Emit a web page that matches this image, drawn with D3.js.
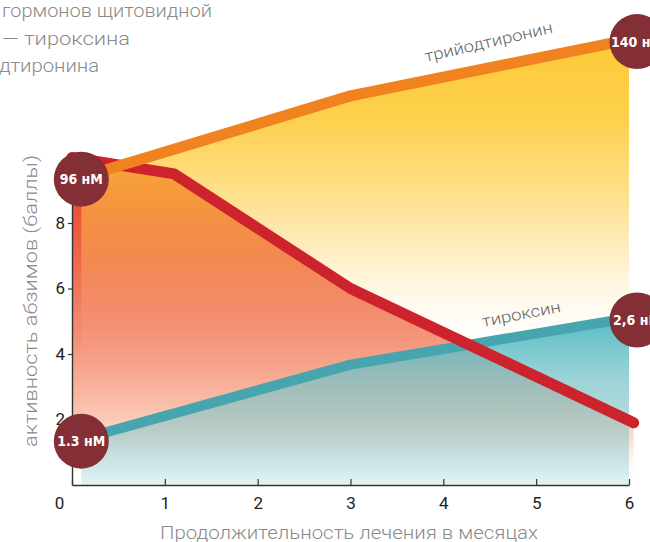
<!DOCTYPE html>
<html>
<head>
<meta charset="utf-8">
<script src="https://cdn.jsdelivr.net/npm/d3@7"></script>
<style>
  html, body { margin: 0; padding: 0; background: #fff; }
  svg { display: block; }
</style>
</head>
<body>
<svg id="chart" width="650" height="542"></svg>
<script>
// Treatment duration, months
const months = [0, 1, 2, 3, 4, 5, 6];
const activityTicks = [2, 4, 6, 8];

// Abzyme activity, score
const activityMonths = [0, 1.1, 3, 6.05];
const activityValues = [10, 9.5, 6, 1.9];

// Triiodothyronine, nM
const t3Months = [0.1, 3, 6];
const t3Values = [96, 122, 140];
const t3Labels = ["96 нМ", "140 нМ"];

// Thyroxine, nM
const t4Months = [0.1, 3, 6];
const t4Values = [1.3, 2.1, 2.6];
const t4Labels = ["1.3 нМ", "2,6 нМ"];

const titleLines = ["гормонов щитовидной", "— тироксина", "дтиронина"];
const xTitle = "Продолжительность лечения в месяцах";
const yTitle = "активность абзимов (баллы)";
const t3Name = "трийодтиронин";
const t4Name = "тироксин";

const svg = d3.select("#chart");
const lightFont = "Roboto, 'Liberation Sans', sans-serif";
const badgeFont = "'Liberation Sans Narrow', 'DejaVu Sans Condensed', 'Liberation Sans', sans-serif";

const x = d3.scaleLinear().domain([0, 6]).range([72, 629]);
const y = d3.scaleLinear().domain([0, 10]).range([485, 157.5]);
// hormone concentrations share the plot area on their own scales
const yT3 = d3.scaleLinear().domain([96, 140]).range([y(9.4), y(13.6)]);
const yT4 = d3.scaleLinear().domain([1.3, 2.6]).range([y(1.4), y(5.1)]);

const activity = activityMonths.map((m, i) => ({ m, v: activityValues[i] }));
const t3 = t3Months.map((m, i) => ({ m, v: t3Values[i] }));
const t4 = t4Months.map((m, i) => ({ m, v: t4Values[i] }));

// vertical gradients in page coordinates
const defs = svg.append("defs");
function vGradient(id, stops) {
  const y1 = stops[0][0], y2 = stops[stops.length - 1][0];
  const g = defs.append("linearGradient").attr("id", id)
    .attr("gradientUnits", "userSpaceOnUse")
    .attr("x1", 0).attr("x2", 0).attr("y1", y1).attr("y2", y2);
  stops.forEach(([py, c, o]) => {
    g.append("stop").attr("offset", (py - y1) / (y2 - y1))
      .attr("stop-color", c).attr("stop-opacity", o);
  });
}
vGradient("gRed", [[150, "#e83a2a", 1], [250, "#ee6248", 1], [330, "#f38a70", 1],
                   [400, "#f9bba5", 1], [440, "#fcdccf", 1], [482, "#ffffff", 0]]);
vGradient("gYellow", [[35, "#fdc935", 1], [120, "#fdcb3a", 0.9], [200, "#fdcc40", 0.58],
                      [260, "#fdd055", 0.32], [310, "#fde090", 0.12], [370, "#ffffff", 0]]);
vGradient("gTeal", [[315, "#4ab8c4", 0.95], [380, "#76c3c8", 0.72], [430, "#8ec6c6", 0.6],
                    [485, "#e2f3f3", 0.95]]);

// filled areas
svg.append("path").datum(activity)
  .attr("fill", "url(#gRed)")
  .attr("d", d3.area().x(d => x(d.m)).y0(y(0)).y1(d => y(d.v)));
svg.append("path").datum(t3)
  .attr("fill", "url(#gYellow)")
  .attr("d", d3.area().x(d => x(d.m)).y0(y(0)).y1(d => yT3(d.v)));
svg.append("path").datum(t4)
  .attr("fill", "url(#gTeal)")
  .attr("d", d3.area().x(d => x(d.m)).y0(y(0)).y1(d => yT4(d.v)));

// axes
const xAxis = svg.append("g").attr("transform", `translate(0,${y(0)})`)
  .call(d3.axisBottom(x).tickValues(months).tickFormat(d3.format("d"))
    .tickSizeInner(-6).tickSizeOuter(0).tickPadding(12));
const yAxis = svg.append("g").attr("transform", `translate(${x(0)},0)`)
  .call(d3.axisLeft(y).tickValues(activityTicks).tickFormat(d3.format("d"))
    .tickSizeInner(4).tickSizeOuter(0).tickPadding(3));
[xAxis, yAxis].forEach(a => {
  a.select(".domain").attr("stroke", "#333").attr("stroke-width", 1.4);
  a.selectAll(".tick line").attr("stroke", "#333").attr("stroke-width", 1.2);
  a.selectAll(".tick text").attr("fill", "#222")
    .style("font-family", lightFont).style("font-size", "17px");
});
xAxis.selectAll(".tick text").filter(d => d === 0).attr("dx", -13);

// lines
svg.append("path").datum(t4)
  .attr("fill", "none").attr("stroke", "#46a5ae").attr("stroke-width", 10)
  .attr("stroke-linejoin", "round")
  .attr("d", d3.line().x(d => x(d.m)).y(d => yT4(d.v)));
svg.append("path").datum(activity)
  .attr("fill", "none").attr("stroke", "#cd232d").attr("stroke-width", 11)
  .attr("stroke-linejoin", "round").attr("stroke-linecap", "round")
  .attr("d", d3.line().x(d => x(d.m)).y(d => y(d.v)));
svg.append("path").datum(t3)
  .attr("fill", "none").attr("stroke", "#f0821f").attr("stroke-width", 11)
  .attr("stroke-linejoin", "round")
  .attr("d", d3.line().x(d => x(d.m)).y(d => yT3(d.v)));

// concentration badges at both ends of the hormone lines
const badges = [
  { d: t3[0], s: yT3, label: t3Labels[0], dx: 0 },
  { d: t3[t3.length - 1], s: yT3, label: t3Labels[1], dx: 8 },
  { d: t4[0], s: yT4, label: t4Labels[0], dx: 0 },
  { d: t4[t4.length - 1], s: yT4, label: t4Labels[1], dx: 8 }
];
const bg = svg.append("g").selectAll("g").data(badges).join("g")
  .attr("transform", b => `translate(${x(b.d.m) + b.dx},${b.s(b.d.v) + 2})`);
bg.append("circle").attr("r", 27.5).attr("fill", "#842e35");
bg.append("text").text(b => b.label)
  .attr("text-anchor", "middle").attr("dy", "0.36em")
  .attr("fill", "#fff")
  .style("font-family", badgeFont).style("font-weight", "bold").style("font-size", "14px");

// series names along the lines
svg.append("text").text(t3Name)
  .attr("transform", "translate(426,62) rotate(-13)")
  .attr("fill", "#666").attr("textLength", 131).attr("lengthAdjust", "spacingAndGlyphs")
  .style("font-family", lightFont).style("font-weight", 300).style("font-size", "16px");
svg.append("text").text(t4Name)
  .attr("transform", "translate(483,327) rotate(-11)")
  .attr("fill", "#666").attr("textLength", 80).attr("lengthAdjust", "spacingAndGlyphs")
  .style("font-family", lightFont).style("font-weight", 300).style("font-size", "16px");

// axis titles
svg.append("text").text(xTitle)
  .attr("x", 349).attr("y", 539).attr("text-anchor", "middle")
  .attr("fill", "#8a8a8a").attr("textLength", 378).attr("lengthAdjust", "spacingAndGlyphs")
  .style("font-family", lightFont).style("font-weight", 300).style("font-size", "19px");
svg.append("text").text(yTitle)
  .attr("transform", "translate(37,301) rotate(-90)").attr("text-anchor", "middle")
  .attr("fill", "#8a8a8a").attr("textLength", 292).attr("lengthAdjust", "spacingAndGlyphs")
  .style("font-family", lightFont).style("font-weight", 300).style("font-size", "19px");

// heading
const headX = [2, 2, -1];
const headW = [210, 128, 100];
svg.append("g").selectAll("text").data(titleLines).join("text")
  .text(d => d)
  .attr("x", (d, i) => headX[i]).attr("y", (d, i) => 17 + i * 27.5)
  .attr("fill", "#8a8a8a")
  .attr("textLength", (d, i) => headW[i]).attr("lengthAdjust", "spacingAndGlyphs")
  .style("font-family", lightFont).style("font-weight", 300).style("font-size", "19px");
</script>
</body>
</html>
